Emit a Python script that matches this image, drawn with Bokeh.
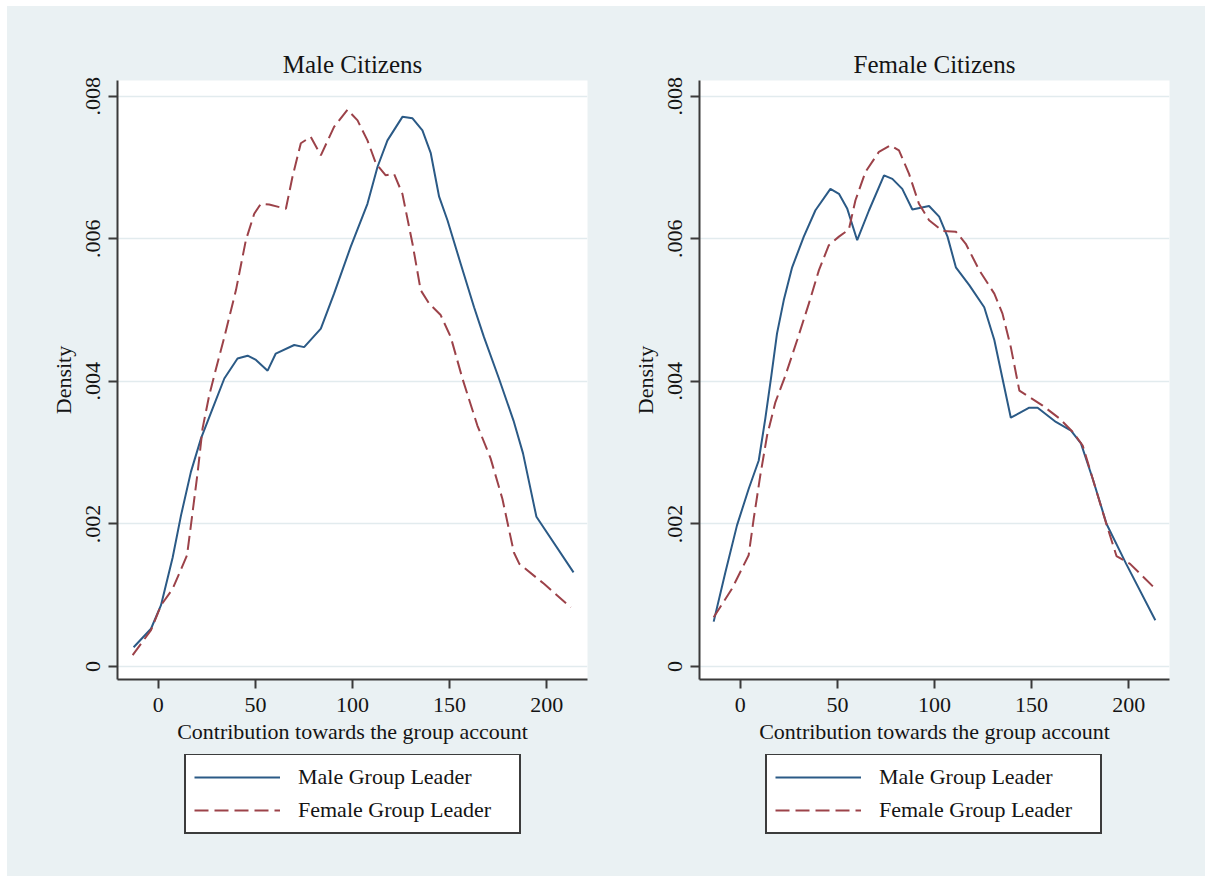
from bokeh.plotting import figure
from bokeh.models import Range1d, FixedTicker, Legend, LegendItem
from bokeh.layouts import row, column
from bokeh.embed import file_html
from bokeh.resources import INLINE

FONT = "Liberation Serif"
BG = "#eaf1f3"
GRID = "#e2ebee"
BLUE = "#2b5a86"
RED = "#9c4249"
TXT = "#141414"
AXC = "#3a3a3a"
DASH = "14 6"

panel_titles = ["Male Citizens", "Female Citizens"]
series_names = ["Male Group Leader", "Female Group Leader"]
x_label = "Contribution towards the group account"
y_label = "Density"
x_ticks = [0, 50, 100, 150, 200]
y_ticks = [0, 0.002, 0.004, 0.006, 0.008]
y_tick_labels = ["0", ".002", ".004", ".006", ".008"]

# Male citizens panel
mc_male_x = [-12.7, -3.75, 1.4, 7.4, 11.7, 16.8, 22.0, 28.0, 34.0, 40.8, 46.0, 50.3, 56.3,
             60.5, 70.0, 75.1, 83.7, 90.5, 99.1, 107.7, 112.9, 118.0, 125.7, 130.9, 136.0,
             140.3, 144.6, 148.9, 155.7, 162.6, 167.7, 175.4, 182.9, 187.8, 194.7, 213.8]
mc_male_y = [0.00027, 0.00053, 0.00086, 0.00153, 0.00212, 0.00273, 0.00320, 0.00362, 0.00404,
             0.00432, 0.00436, 0.00430, 0.00415, 0.00439, 0.00451, 0.00448, 0.00474, 0.00523,
             0.00589, 0.00649, 0.00701, 0.00738, 0.00771, 0.00769, 0.00752, 0.00720, 0.00659,
             0.00626, 0.00565, 0.00504, 0.00462, 0.00404, 0.00345, 0.00299, 0.00210, 0.00132]
mc_female_x = [-13.2, -3.75, 1.4, 7.4, 14.8, 16.8, 20.3, 22.8, 26.2, 28.8, 34.0, 40.0, 45.1,
               49.4, 52.8, 57.1, 65.7, 69.1, 73.4, 78.5, 83.7, 90.5, 97.4, 102.6, 107.7, 112.0,
               117.1, 121.4, 125.7, 130.9, 135.1, 139.5, 145.4, 150.6, 156.6, 164.3, 171.1,
               177.2, 183.1, 185.9, 198.6, 212.4]
mc_female_y = [0.00016, 0.00051, 0.00086, 0.00109, 0.00156, 0.00198, 0.00273, 0.00334, 0.00380,
               0.00408, 0.00462, 0.00528, 0.00598, 0.00635, 0.00649, 0.00648, 0.00642, 0.00687,
               0.00734, 0.00743, 0.00717, 0.00757, 0.00781, 0.00766, 0.00738, 0.00706, 0.00689,
               0.00691, 0.00663, 0.00593, 0.00528, 0.00509, 0.00493, 0.00462, 0.00404, 0.00338,
               0.00292, 0.00235, 0.00160, 0.00144, 0.00116, 0.00083]

# Female citizens panel
fc_male_x = [-13.7, -7.7, -1.7, 4.3, 9.5, 12.9, 16.0, 18.9, 22.4, 26.7, 32.7, 38.7, 46.4, 50.8,
             55.1, 60.2, 66.3, 74.0, 78.3, 83.4, 88.6, 97.2, 102.4, 106.7, 111.0, 117.9, 125.6,
             130.8, 135.0, 139.3, 148.8, 153.1, 162.5, 170.3, 175.4, 181.5, 188.6, 198.7, 213.7]
fc_male_y = [0.00063, 0.00132, 0.00198, 0.00249, 0.00289, 0.00348, 0.00408, 0.00467, 0.00514,
             0.00560, 0.00603, 0.00640, 0.00670, 0.00663, 0.00642, 0.00598, 0.00640, 0.00689,
             0.00684, 0.00670, 0.00641, 0.00646, 0.00631, 0.00603, 0.00560, 0.00535, 0.00504,
             0.00458, 0.00404, 0.00349, 0.00363, 0.00363, 0.00343, 0.00331, 0.00313, 0.00263,
             0.00200, 0.00144, 0.00065]
fc_female_x = [-13.7, -4.3, 4.3, 6.9, 10.3, 13.8, 18.1, 23.2, 29.3, 35.3, 40.5, 45.6, 50.8, 55.9,
               59.3, 64.5, 71.4, 77.4, 81.7, 86.9, 92.0, 97.2, 104.1, 111.0, 116.1, 123.0,
               130.8, 135.0, 139.3, 143.7, 155.7, 164.3, 171.2, 176.3, 181.5, 188.6, 193.7,
               200.7, 213.7]
fc_female_y = [0.00069, 0.00109, 0.00156, 0.00207, 0.00268, 0.00324, 0.00371, 0.00408, 0.00458,
               0.00509, 0.00556, 0.00591, 0.00603, 0.00613, 0.00654, 0.00694, 0.00722, 0.00731,
               0.00724, 0.00691, 0.00649, 0.00626, 0.00611, 0.00610, 0.00593, 0.00556, 0.00523,
               0.00495, 0.00448, 0.00387, 0.00366, 0.00348, 0.00329, 0.00310, 0.00263, 0.00199,
               0.00155, 0.00144, 0.00109]


def make_panel(title, male_x, male_y, female_x, female_y, border_left, border_right):
    p = figure(frame_width=470, frame_height=599,
               min_border_left=border_left, min_border_right=border_right,
               min_border_top=74, min_border_bottom=75,
               x_range=Range1d(-21, 221), y_range=Range1d(-0.000182, 0.00822),
               output_backend="svg", toolbar_location=None, title=title)
    p.border_fill_color = BG
    p.background_fill_color = "white"
    p.outline_line_color = None

    p.title.align = "center"
    p.title.text_font = FONT
    p.title.text_font_size = "25px"
    p.title.text_font_style = "normal"
    p.title.text_color = TXT
    p.title.standoff = 6

    p.xgrid.visible = False
    p.ygrid.ticker = FixedTicker(ticks=y_ticks)
    p.ygrid.grid_line_color = GRID
    p.ygrid.grid_line_width = 1.6

    xa = p.xaxis[0]
    xa.ticker = FixedTicker(ticks=x_ticks)
    xa.axis_label = x_label
    ya = p.yaxis[0]
    ya.ticker = FixedTicker(ticks=y_ticks)
    ya.major_label_overrides = {t: l for t, l in zip(y_ticks, y_tick_labels)}
    ya.axis_label = y_label
    ya.major_label_orientation = "vertical"
    for ax in (xa, ya):
        ax.axis_line_color = AXC
        ax.axis_line_width = 2
        ax.major_tick_line_color = AXC
        ax.major_tick_line_width = 2
        ax.major_tick_in = 0
        ax.major_tick_out = 9
        ax.minor_tick_line_color = None
        ax.major_label_text_font = FONT
        ax.major_label_text_font_size = "22px"
        ax.major_label_text_color = TXT
        ax.axis_label_text_font = FONT
        ax.axis_label_text_font_size = "22px"
        ax.axis_label_text_font_style = "normal"
        ax.axis_label_text_color = TXT
    xa.major_label_standoff = 9
    xa.axis_label_standoff = 4
    ya.major_label_standoff = 8
    ya.axis_label_standoff = 8

    p.line(male_x, male_y, line_color=BLUE, line_width=2)
    p.line(female_x, female_y, line_color=RED, line_width=2, line_dash=DASH)
    return p


def make_legend(male_x, male_y, female_x, female_y, fig_width, box_left):
    # The series are drawn here only as legend keys: the y range lies far above
    # the densities, so the curves themselves fall outside this strip.
    lp = figure(frame_width=fig_width, frame_height=122, min_border=0,
                x_range=Range1d(-21, 221), y_range=Range1d(1, 2),
                x_axis_location=None, y_axis_location=None,
                output_backend="svg", toolbar_location=None)
    lp.border_fill_color = BG
    lp.background_fill_color = BG
    lp.outline_line_color = None
    lp.grid.visible = False
    r1 = lp.line(male_x, male_y, line_color=BLUE, line_width=2)
    r2 = lp.line(female_x, female_y, line_color=RED, line_width=2, line_dash=DASH)
    legend = Legend(items=[LegendItem(label=series_names[0], renderers=[r1]),
                           LegendItem(label=series_names[1], renderers=[r2])],
                    location=(box_left, 42), orientation="vertical")
    legend.label_text_font = FONT
    legend.label_text_font_size = "22px"
    legend.label_text_color = TXT
    legend.glyph_width = 86
    legend.glyph_height = 28
    legend.label_height = 28
    legend.label_width = 213
    legend.label_standoff = 18
    legend.padding = 8
    legend.spacing = 5
    legend.margin = 0
    legend.border_line_color = "#3c3c3c"
    legend.border_line_alpha = 1
    legend.border_line_width = 2.5
    legend.background_fill_color = "white"
    legend.background_fill_alpha = 1
    lp.add_layout(legend)
    return lp


p1 = make_panel(panel_titles[0], mc_male_x, mc_male_y, mc_female_x, mc_female_y, 110, 18)
p2 = make_panel(panel_titles[1], fc_male_x, fc_male_y, fc_female_x, fc_female_y, 94, 36)
l1 = make_legend(mc_male_x, mc_male_y, mc_female_x, mc_female_y, 598, 177)
l2 = make_legend(fc_male_x, fc_male_y, fc_female_x, fc_female_y, 600, 160)

layout = row(column(p1, l1, spacing=0), column(p2, l2, spacing=0), spacing=0,
             margin=(6, 0, 0, 7), styles={"background-color": BG})
open("out.html", "w").write(file_html(layout, INLINE))
